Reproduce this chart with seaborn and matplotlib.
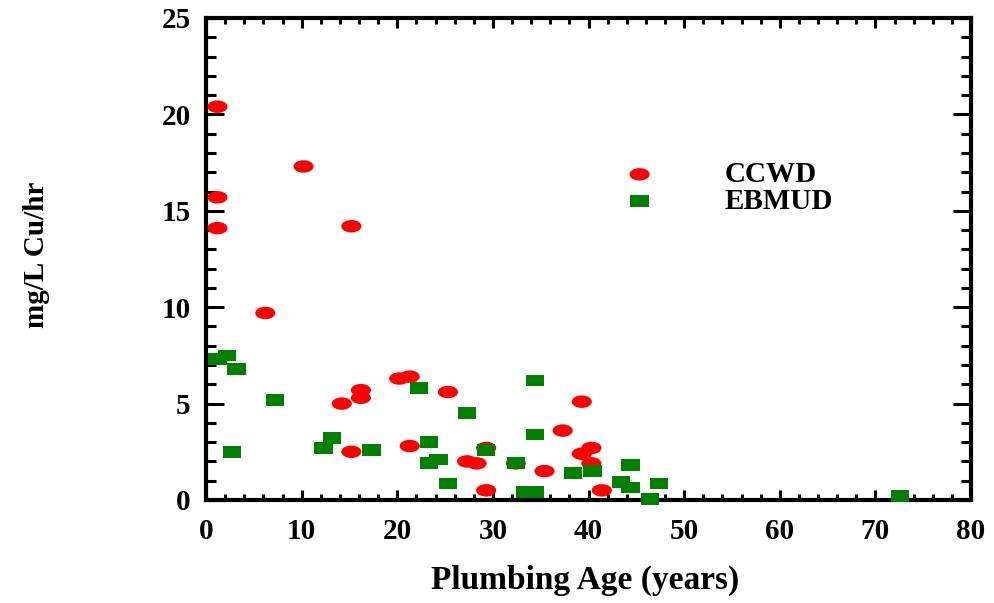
import numpy as np
import pandas as pd
import matplotlib
matplotlib.use("Agg")
import matplotlib.pyplot as plt
import seaborn as sns
from matplotlib.path import Path
from matplotlib.ticker import MultipleLocator

# ---- data ----
ccwd_age = [1.2, 1.2, 1.2, 10.2, 15.2, 6.2, 14.2, 16.2, 16.2, 15.2, 20.2, 21.3, 21.3,
            25.3, 27.3, 28.3, 29.3, 29.3, 32.4, 35.4, 37.3, 39.3, 39.3, 40.3, 40.3, 41.4]
ccwd_cu = [20.4, 15.7, 14.1, 17.3, 14.2, 9.7, 5.0, 5.7, 5.3, 2.5, 6.3, 6.4, 2.8,
           5.6, 2.0, 1.9, 2.7, 0.5, 1.9, 1.5, 3.6, 5.1, 2.4, 2.7, 1.9, 0.5]
ebmud_age = [1.2, 2.2, 3.2, 2.7, 7.2, 12.3, 13.2, 17.3, 22.3, 23.3, 24.3, 23.3, 25.3, 27.3,
             29.3, 34.4, 34.4, 32.4, 33.4, 34.4, 38.4, 40.4, 44.4, 43.4, 44.4, 47.4, 46.4, 72.6]
ebmud_cu = [7.3, 7.5, 6.8, 2.5, 5.2, 2.7, 3.2, 2.6, 5.8, 3.0, 2.1, 1.9, 0.85, 4.5,
            2.6, 6.2, 3.4, 1.9, 0.4, 0.4, 1.4, 1.5, 1.8, 0.95, 0.65, 0.85, 0.07, 0.2]
series_names = ["CCWD", "EBMUD"]
xticks = [0, 10, 20, 30, 40, 50, 60, 70, 80]
yticks = [0, 5, 10, 15, 20, 25]

df_c = pd.DataFrame({"age": ccwd_age, "cu": ccwd_cu})
df_e = pd.DataFrame({"age": ebmud_age, "cu": ebmud_cu})

sns.set_style("white")
plt.rcParams["font.family"] = ["Liberation Serif", "DejaVu Serif"]
plt.rcParams["font.weight"] = "bold"
for key in ["text.color", "axes.labelcolor", "xtick.color", "ytick.color"]:
    plt.rcParams[key] = "black"

# custom markers: flat ellipse and flat rectangle
circ = Path.unit_circle()
ellipse = Path(circ.vertices * np.array([1.0, 0.62]), circ.codes)
rect = Path(np.array([[-1, -0.64], [1, -0.64], [1, 0.64], [-1, 0.64], [-1, -0.64]]),
            [Path.MOVETO, Path.LINETO, Path.LINETO, Path.LINETO, Path.CLOSEPOLY])

fig = plt.figure(figsize=(9.94, 6.03), dpi=100)
ax = fig.add_axes([206 / 994, 1 - 500 / 603, (971 - 206) / 994, (500 - 18) / 603])

sns.scatterplot(data=df_c, x="age", y="cu", ax=ax, marker=ellipse, s=210,
                color="#ff0000", edgecolor="none", linewidth=0, label=series_names[0],
                clip_on=False, zorder=3)
sns.scatterplot(data=df_e, x="age", y="cu", ax=ax, marker=rect, s=175,
                color="#008000", edgecolor="none", linewidth=0, label=series_names[1],
                clip_on=False, zorder=4)

ax.set_xlim(0, 80)
ax.set_ylim(0, 25)
ax.set_xticks(xticks)
ax.set_yticks(yticks)
ax.xaxis.set_minor_locator(MultipleLocator(2))
ax.yaxis.set_minor_locator(MultipleLocator(1))

for sp in ax.spines.values():
    sp.set_linewidth(3)
    sp.set_color("black")

ax.tick_params(axis="x", which="major", direction="in", length=7.5, width=2.2,
               top=True, bottom=True, pad=13, labelsize=21, colors="black")
ax.tick_params(axis="x", which="minor", direction="in", length=4.5, width=2.2,
               top=True, bottom=True, colors="black")
ax.tick_params(axis="y", which="major", direction="in", length=13, width=2.2,
               left=True, right=True, pad=11, labelsize=21, colors="black")
ax.tick_params(axis="y", which="minor", direction="in", length=7.5, width=2.2,
               left=True, right=True, colors="black")
for lab in ax.get_xticklabels() + ax.get_yticklabels():
    lab.set_fontweight("bold")

ax.set_xlabel("Plumbing Age (years)", fontsize=24, fontweight="bold", color="black")
ax.set_ylabel("mg/L Cu/hr", fontsize=21, fontweight="bold", color="black")
ax.xaxis.set_label_coords(0.495, -0.135)
ax.yaxis.set_label_coords(-0.204, 0.508)

leg = ax.legend(loc="center left", bbox_to_anchor=(625 / 994, 1 - 188 / 603),
                bbox_transform=fig.transFigure, frameon=False, borderpad=0,
                borderaxespad=0, handlelength=1.0, handletextpad=2.4,
                labelspacing=0.0, prop={"family": "Liberation Serif", "weight": "bold", "size": 21})
for t in leg.get_texts():
    t.set_color("black")

fig.savefig("out.png", dpi=100)
